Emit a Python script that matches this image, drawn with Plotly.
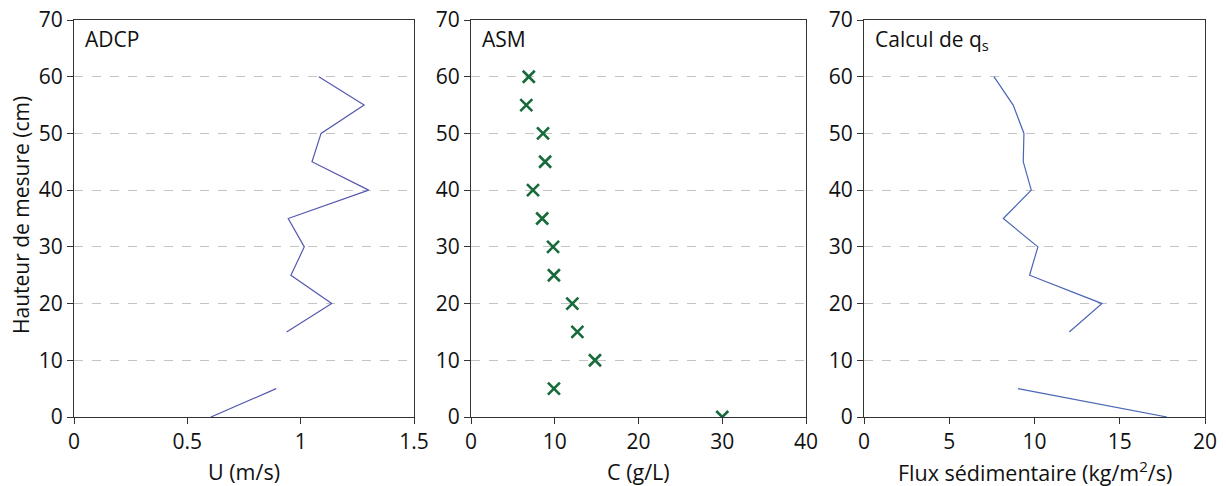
import plotly.graph_objects as go
from plotly.subplots import make_subplots

heights = [60, 55, 50, 45, 40, 35, 30, 25, 20, 15, 10, 5, 0]
u_adcp = [1.08, 1.28, 1.09, 1.05, 1.30, 0.945, 1.016, 0.957, 1.137, 0.938, None, 0.892, 0.604]
c_asm = [6.9, 6.6, 8.6, 8.85, 7.4, 8.5, 9.8, 9.9, 12.1, 12.7, 14.8, 9.9, 30.0]
qs_flux = [7.62, 8.75, 9.38, 9.34, 9.81, 8.17, 10.2, 9.71, 13.96, 12.04, None, 9.03, 17.77]

x_titles = ["U (m/s)", "C (g/L)", "Flux sédimentaire (kg/m<sup>2</sup>/s)"]
y_title = "Hauteur de mesure (cm)"
panel_labels = ["ADCP", "ASM", "Calcul de q<sub>s</sub>"]
x_ranges = [[0, 1.5], [0, 40], [0, 20]]
x_dtick = [0.5, 10, 5]

FONT = "Open Sans, Noto Sans, sans-serif"
TXT = "#111111"

fig = make_subplots(rows=1, cols=3)
fig.add_trace(go.Scatter(x=u_adcp, y=heights, mode="lines",
                         line=dict(color="#5558b0", width=1.2), connectgaps=False,
                         showlegend=False), row=1, col=1)
fig.add_trace(go.Scatter(x=c_asm, y=heights, mode="markers",
                         marker=dict(symbol="x-thin", size=12, color="#176b3a",
                                     line=dict(width=2.6, color="#176b3a")),
                         showlegend=False), row=1, col=2)
fig.add_trace(go.Scatter(x=qs_flux, y=heights, mode="lines",
                         line=dict(color="#4a66b5", width=1.2), connectgaps=False,
                         showlegend=False), row=1, col=3)

W, H = 1226, 486


def px_x(p):
    return p / W


def px_y(p):
    return 1 - p / H


xdoms = [(74, 414), (471, 806), (864, 1205)]
top_px, bot_px = 20, 417
ydom = [px_y(bot_px), px_y(top_px)]

for i in range(3):
    xa = "xaxis" if i == 0 else f"xaxis{i+1}"
    ya = "yaxis" if i == 0 else f"yaxis{i+1}"
    fig.layout[xa].update(
        domain=[px_x(xdoms[i][0]), px_x(xdoms[i][1])], range=x_ranges[i], dtick=x_dtick[i],
        tick0=0, showgrid=False, zeroline=False, showline=True, linecolor="#333333",
        linewidth=1.3, mirror=True, ticks="outside", ticklen=6, tickcolor="#333333",
        tickfont=dict(size=21, color=TXT, family=FONT), automargin=False,
        ticklabeloverflow="allow",
    )
    fig.layout[ya].update(
        domain=ydom, range=[0, 70], dtick=10, tick0=0, showgrid=True, gridcolor="#c4c4c4",
        griddash="dash", gridwidth=1, zeroline=False, showline=True, linecolor="#333333",
        linewidth=1.3, mirror=True, ticks="outside", ticklen=6, tickcolor="#333333",
        tickfont=dict(size=21, color=TXT, family=FONT), automargin=False,
        ticklabeloverflow="allow",
    )
    # panel label
    fig.add_annotation(
        x=px_x(xdoms[i][0] + 9), y=px_y(top_px + 3), xref="paper", yref="paper",
        xanchor="left", yanchor="top", text=panel_labels[i], showarrow=False,
        font=dict(size=21, color=TXT, family=FONT),
    )
    # x-axis title
    fig.add_annotation(
        x=px_x((xdoms[i][0] + xdoms[i][1]) / 2), y=px_y(471), xref="paper", yref="paper",
        xanchor="center", yanchor="middle", text=x_titles[i], showarrow=False,
        font=dict(size=21.5, color=TXT, family=FONT),
    )

fig.add_annotation(
    x=px_x(21), y=px_y(215), xref="paper", yref="paper", xanchor="center",
    yanchor="middle", text=y_title, textangle=-90, showarrow=False,
    font=dict(size=21, color=TXT, family=FONT),
)

fig.update_layout(width=W, height=H, margin=dict(l=0, r=0, t=0, b=0),
                  plot_bgcolor="white", paper_bgcolor="white",
                  font=dict(family=FONT))

fig.write_html(
    "out.html",
    config={"displayModeBar": False},
    post_script="document.body.style.margin='0';document.body.style.overflow='hidden';",
)
